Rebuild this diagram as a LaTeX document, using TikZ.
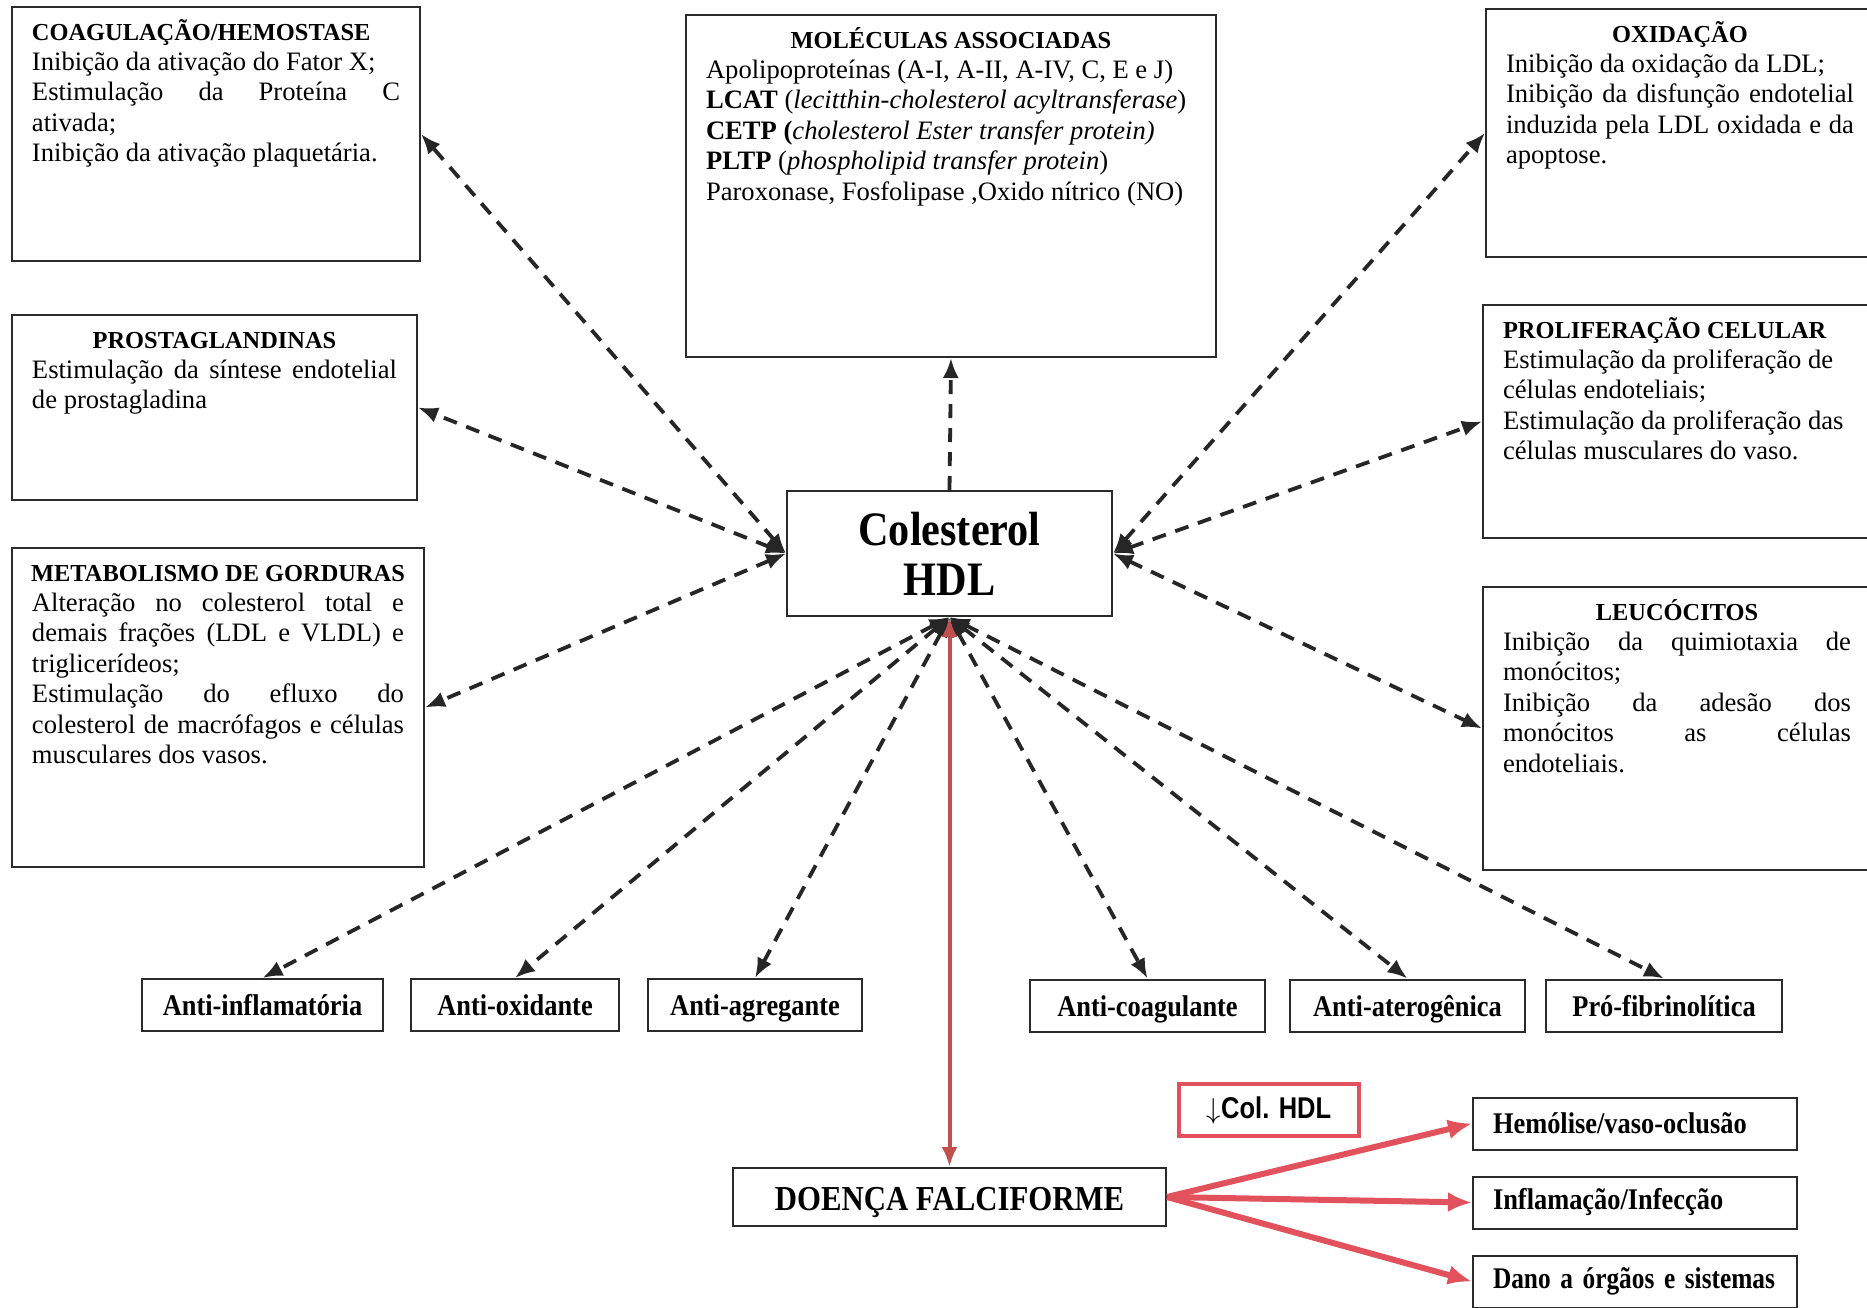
\documentclass[tikz,border=0pt]{standalone}
\usepackage{fontspec}
\usepackage{graphicx}
\setmainfont{Liberation Serif}
\newfontfamily\narrowserif[FakeStretch=0.88]{Liberation Serif}
\newfontfamily\narrowsans[FakeStretch=0.85]{Liberation Sans}
\usetikzlibrary{positioning,arrows.meta}
\definecolor{framegray}{HTML}{2B2B2B}
\definecolor{darkred}{HTML}{C0504D}
\definecolor{brightred}{HTML}{E2525C}
\newcommand{\panel}[3]{\parbox[t][#2][t]{#1}{\hyphenpenalty=10000 #3}}
\newcommand{\ptitle}[1]{{\fontsize{12.2}{15.2}\selectfont\bfseries\rule{0pt}{11pt}\makebox[\linewidth][c]{#1}\par}}
\newcommand{\ptitleleft}[1]{{\raggedright\fontsize{12.2}{15.2}\selectfont\bfseries\rule{0pt}{11pt}#1\par}}
\tikzset{
  panel/.style={draw=framegray,line width=1pt,anchor=north west,inner xsep=10pt,inner ysep=5.5pt,
                font=\fontsize{13.3}{15.2}\selectfont},
  hub/.style={draw=framegray,line width=1pt,align=center,minimum width=162.5pt,minimum height=62.5pt,
              inner sep=0pt,font=\fontsize{24}{25}\narrowserif\bfseries},
  tag/.style={draw=framegray,line width=1pt,minimum height=26pt,inner sep=0pt,
              text height=13pt,text depth=2.2pt,font=\fontsize{15}{18}\narrowserif\bfseries},
  rtag/.style={draw=framegray,line width=1pt,minimum height=26pt,minimum width=162pt,text width=142pt,
               align=left,inner xsep=10pt,inner ysep=0pt,font=\fontsize{15}{18}\narrowserif\bfseries},
  darr/.style={{Latex[length=10pt,width=8pt]}-{Latex[length=10pt,width=8pt]},line width=1.9pt,
               dash pattern=on 7pt off 5pt,draw=black!85},
  uarr/.style={-{Latex[length=10pt,width=8pt]},line width=1.9pt,dash pattern=on 7pt off 5pt,draw=black!85},
  redv/.style={{Latex[length=10pt,width=8pt]}-{Latex[length=10pt,width=8pt]},line width=2pt,draw=darkred},
  redfan/.style={-{Latex[length=12pt,width=10pt]},line width=3pt,draw=brightred}
}
\begin{document}
\begin{tikzpicture}[x=0.5pt,y=-0.5pt]
  \useasboundingbox (0,0) rectangle (1867,1307);
  \clip (0,0) rectangle (1867,1307);
  \fill[white] (0,0) rectangle (1867,1307);
  % centre
  \node[hub] (hdl) at (949.5,553.5) {Colesterol\\HDL};
  % left panels
  \node[panel] (hemo) at (11,6) {\panel{184pt}{116pt}{%
    \ptitleleft{COAGULAÇÃO/HEMOSTASE}
    Inibição da ativação do Fator X;\par
    Estimulação da Proteína C\linebreak ativada;\par
    Inibição da ativação plaquetária.}};
  \node[panel] (prost) at (11,314) {\panel{182.5pt}{81.5pt}{%
    \ptitle{PROSTAGLANDINAS}
    Estimulação da síntese endotelial\linebreak de prostagladina}};
  \node[panel] (metab) at (11,547) {\panel{186pt}{148.5pt}{%
    \ptitle{METABOLISMO DE GORDURAS}
    Alteração no colesterol total e\linebreak demais frações (LDL e VLDL) e\linebreak triglicerídeos;\par
    Estimulação do efluxo do\linebreak colesterol de macrófagos e células\linebreak musculares dos vasos.}};
  % top panel
  \node[panel] (molec) at (685,14) {\panel{245pt}{160pt}{%
    \ptitle{MOLÉCULAS ASSOCIADAS}
    \raggedright
    Apolipoproteínas (A-I, A-II, A-IV, C, E e J)\\
    \textbf{LCAT} (\textit{lecitthin-cholesterol acyltransferase})\\
    \textbf{CETP (}\textit{cholesterol Ester transfer protein)}\\
    \textbf{PLTP} (\textit{phospholipid transfer protein})\\
    Paroxonase, Fosfolipase ,Oxido nítrico (NO)}};
  % right panels
  \node[panel] (oxid) at (1485,8) {\panel{174pt}{113pt}{%
    \ptitle{OXIDAÇÃO}
    Inibição da oxidação da LDL;\par
    Inibição da disfunção endotelial\linebreak induzida pela LDL oxidada e da\linebreak apoptose.}};
  \node[panel] (prolif) at (1482,304) {\panel{174pt}{105.5pt}{%
    \ptitleleft{PROLIFERAÇÃO CELULAR}
    \raggedright
    Estimulação da proliferação de\\ células endoteliais;\\
    Estimulação da proliferação das\\ células musculares do vaso.}};
  \node[panel] (leuco) at (1482,586) {\panel{174pt}{130.5pt}{%
    \ptitle{LEUCÓCITOS}
    Inibição da quimiotaxia de\linebreak monócitos;\par
    Inibição da adesão dos\linebreak monócitos as células\linebreak endoteliais.}};
  % bottom row
  \node[tag,minimum width=120.5pt] (antiinfl) at (262.5,1005) {Anti-inflamatória};
  \node[tag,minimum width=104pt] (antioxi) at (515,1005) {Anti-oxidante};
  \node[tag,minimum width=107pt] (antiagr) at (755,1005) {Anti-agregante};
  \node[tag,minimum width=117.5pt] (anticoag) at (1147.5,1005.5) {Anti-coagulante};
  \node[tag,minimum width=117.5pt] (antiater) at (1407.5,1005.5) {Anti-aterogênica};
  \node[tag,minimum width=118pt] (profib) at (1664,1005.5) {Pró-fibrinolítica};
  % doenca falciforme
  \node[tag,minimum width=216.5pt,minimum height=29pt,text height=16pt,text depth=2.3pt,
        font=\fontsize{17.5}{20}\narrowserif\bfseries] (doenca) at (949.5,1197) {DOENÇA FALCIFORME};
  \node[draw=brightred,line width=1.8pt,minimum width=90pt,minimum height=26pt,inner sep=0pt,
        font=\fontsize{15}{18}\narrowsans\bfseries] (colhdl) at (1269,1110) {$\downarrow$Col. HDL};
  \node[rtag] (hemolise) at (1635,1123.5) {\mbox{Hemólise/vaso-oclusão}};
  \node[rtag] (inflam) at (1635,1202.5) {\mbox{Inflamação/Infecção}};
  \node[rtag] (dano) at (1635,1281.5) {\scalebox{0.96}[1]{Dano a órgãos e sistemas}};
  % connectors
  \draw[uarr] (hdl.north) -- (molec.south);
  \foreach \p in {hemo,prost,metab}{\draw[darr] (hdl.west) -- (\p.east);}
  \foreach \p in {oxid,prolif,leuco}{\draw[darr] (hdl.east) -- (\p.west);}
  \foreach \t in {antiinfl,antioxi,antiagr,anticoag,antiater,profib}{\draw[darr] (hdl.south) -- (\t.north);}
  \draw[redv] (hdl.south) -- (doenca.north);
  \foreach \t in {hemolise,inflam,dano}{\draw[redfan] (doenca.east) -- (\t.west);}
\end{tikzpicture}
\end{document}
